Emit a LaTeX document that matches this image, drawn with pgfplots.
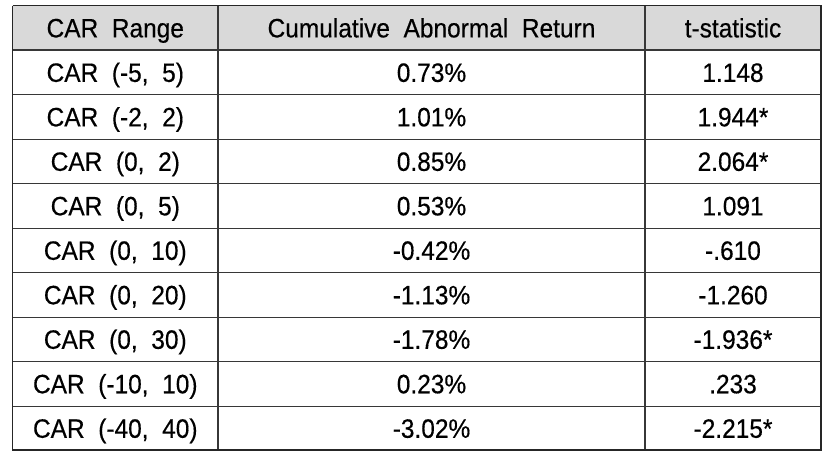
\documentclass[border=0pt]{standalone}
\usepackage{fontspec}
\setmainfont{Liberation Sans}[FakeStretch=0.92, WordSpace=2.0, FakeBold=0.4]
\usepackage{pgfplots}
\usepackage{pgfplotstable}
\pgfplotsset{compat=1.18}
\definecolor{hdr}{RGB}{217,217,217}
\definecolor{ln}{RGB}{55,55,55}
\newcommand\cellfont{\fontsize{13.3}{15}\selectfont}

\pgfplotstableread[col sep=semicolon]{
x;y;label
115.3;37.3;{CAR Range}
431.5;37.3;{Cumulative Abnormal Return}
733;37.3;{t-statistic}
115.3;81.7;{CAR (-5, 5)}
115.3;126.1;{CAR (-2, 2)}
115.3;170.5;{CAR (0, 2)}
115.3;214.9;{CAR (0, 5)}
115.3;259.3;{CAR (0, 10)}
115.3;303.7;{CAR (0, 20)}
115.3;348.1;{CAR (0, 30)}
115.3;392.5;{CAR (-10, 10)}
115.3;436.9;{CAR (-40, 40)}
}\colA

\pgfplotstableread[col sep=semicolon]{
x;y;label
431.5;81.7;{0.73\%}
431.5;126.1;{1.01\%}
431.5;170.5;{0.85\%}
431.5;214.9;{0.53\%}
431.5;259.3;{-0.42\%}
431.5;303.7;{-1.13\%}
431.5;348.1;{-1.78\%}
431.5;392.5;{0.23\%}
431.5;436.9;{-3.02\%}
}\colB

\pgfplotstableread[col sep=semicolon]{
x;y;label
733;81.7;{1.148}
733;126.1;{1.944*}
733;170.5;{2.064*}
733;214.9;{1.091}
733;259.3;{-.610}
733;303.7;{-1.260}
733;348.1;{-1.936*}
733;392.5;{.233}
733;436.9;{-2.215*}
}\colC

\begin{document}
\begin{tikzpicture}
\begin{axis}[
  scale only axis, width=416.5pt, height=228.5pt,
  xmin=0, xmax=833, ymin=0, ymax=457, y dir=reverse,
  hide axis, clip=false,
]
% header background
\addplot[fill=hdr, draw=none] coordinates {(12.5,5.5) (821,5.5) (821,50) (12.5,50) (12.5,5.5)};
% horizontal inner lines
\addplot[ln, line width=0.6pt] coordinates {(12.5,50) (821,50)};
\addplot[ln, line width=0.5pt] coordinates {(12.5,94.4) (821,94.4)};
\addplot[ln, line width=0.5pt] coordinates {(12.5,138.8) (821,138.8)};
\addplot[ln, line width=0.5pt] coordinates {(12.5,183.2) (821,183.2)};
\addplot[ln, line width=0.5pt] coordinates {(12.5,227.6) (821,227.6)};
\addplot[ln, line width=0.5pt] coordinates {(12.5,272.0) (821,272.0)};
\addplot[ln, line width=0.5pt] coordinates {(12.5,316.4) (821,316.4)};
\addplot[ln, line width=0.5pt] coordinates {(12.5,360.8) (821,360.8)};
\addplot[ln, line width=0.5pt] coordinates {(12.5,405.2) (821,405.2)};
% vertical inner lines
\addplot[ln, line width=0.6pt] coordinates {(218,5.5) (218,449.3)};
\addplot[ln, line width=0.6pt] coordinates {(645,5.5) (645,449.3)};
% outer border
\addplot[black!85, line width=0.9pt] coordinates {(12.5,5.5) (821,5.5) (821,449.3) (12.5,449.3) (12.5,5.5)};
% texts
\addplot[draw=none, mark=none, nodes near coords, point meta=explicit symbolic,
  every node near coord/.append style={anchor=base, text=black, font=\cellfont}]
  table[x=x, y=y, meta=label] {\colA};
\addplot[draw=none, mark=none, nodes near coords, point meta=explicit symbolic,
  every node near coord/.append style={anchor=base, text=black, font=\cellfont}]
  table[x=x, y=y, meta=label] {\colB};
\addplot[draw=none, mark=none, nodes near coords, point meta=explicit symbolic,
  every node near coord/.append style={anchor=base, text=black, font=\cellfont}]
  table[x=x, y=y, meta=label] {\colC};
% extent of the picture
\addplot[draw=none, mark=none] coordinates {(0,0) (833,457)};
\end{axis}
\end{tikzpicture}
\end{document}
